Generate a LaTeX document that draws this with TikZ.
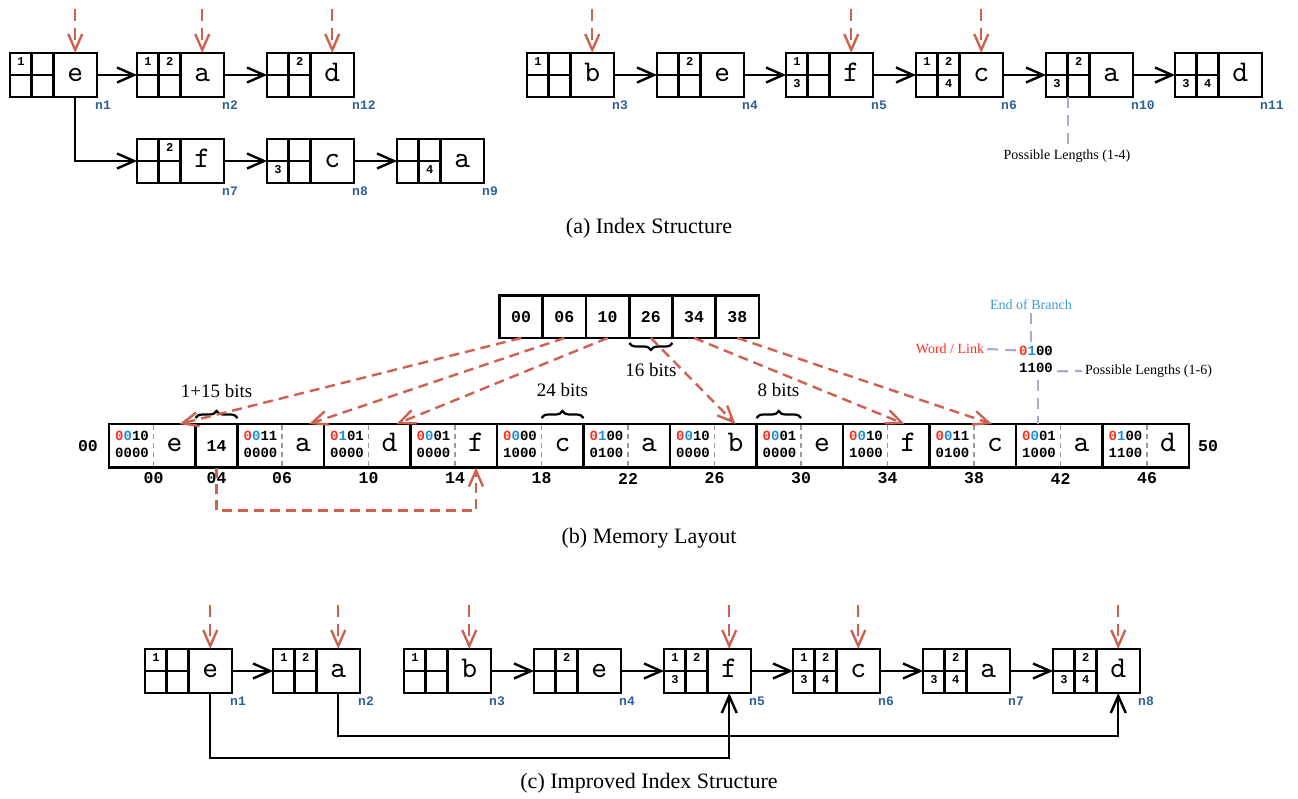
\documentclass[tikz,border=0pt]{standalone}
\usepackage{fontspec}
\setmainfont{Liberation Serif}
\setmonofont{Liberation Mono}
\newfontfamily\lmletter{lmmono10-regular}[Extension=.otf]
\usetikzlibrary{arrows.meta,decorations.pathreplacing,calc}
\definecolor{redar}{HTML}{CF6151}
\definecolor{wred}{HTML}{FF2D1E}
\definecolor{wblue}{HTML}{1C8FDA}
\definecolor{eobblue}{HTML}{3D9BD6}
\definecolor{labblue}{HTML}{2F5F99}
\definecolor{purp}{HTML}{B6A5D2}
\definecolor{gdiv}{HTML}{9A9A9A}
\newcommand\bitc[3]{\textcolor{wred}{#1}\textcolor{wblue}{#2}#3}
\tikzset{
  obox/.style={draw, line width=2.8pt, minimum width=87pt, minimum height=44pt, anchor=north west, inner sep=0pt, outer sep=0pt},
  lcell/.style={draw, line width=2.8pt, minimum width=43.5pt, minimum height=44pt, anchor=north east, inner sep=0pt, outer sep=0pt, text height=12pt, text depth=0pt, font=\lmletter\fontsize{30}{30}\selectfont},
  scell/.style={draw, line width=2.8pt, minimum width=21.75pt, minimum height=22pt, anchor=north west, inner sep=0pt, outer sep=0pt, text height=7pt, text depth=5pt, font=\ttfamily\bfseries\fontsize{12}{12}\selectfont},
  nlab/.style={anchor=base west, inner sep=0pt, text=labblue, font=\ttfamily\bfseries\fontsize{13}{13}\selectfont},
  arr/.style={line width=2.4pt, -{Straight Barb[length=17pt,width=15pt]}},
  redin/.style={draw=redar, line width=2.4pt, dash pattern=on 12pt off 7pt, -{Straight Barb[length=16pt,width=14pt]}},
  reddash/.style={draw=redar, line width=2.4pt, dash pattern=on 10pt off 6pt, -{Straight Barb[length=16pt,width=14pt]}},
  purpd/.style={draw=purp, line width=2.2pt, dash pattern=on 11pt off 7pt},
  gdash/.style={draw=gdiv, line width=1.8pt, dash pattern=on 5pt off 4pt},
  anno/.style={inner sep=3pt, font=\fontsize{14}{14}\selectfont},
  brt/.style={inner sep=0pt, font=\fontsize{19}{19}\selectfont},
  captxt/.style={inner sep=0pt, font=\fontsize{22}{22}\selectfont},
  acell/.style={draw, line width=2.8pt, minimum width=43.25pt, minimum height=42.5pt, anchor=north west, inner sep=0pt, outer sep=0pt, font=\ttfamily\bfseries\fontsize{16.5}{16.5}\selectfont},
  mbox/.style={draw, line width=2.8pt, minimum width=86.5pt, minimum height=43.5pt, anchor=north west, inner sep=0pt, outer sep=0pt},
  m14box/.style={draw, line width=2.8pt, minimum width=42pt, minimum height=43.5pt, anchor=north west, inner sep=0pt, outer sep=0pt, font=\ttfamily\bfseries\fontsize{16.5}{16.5}\selectfont},
  mlet/.style={minimum width=42pt, minimum height=43.5pt, inner sep=0pt, outer sep=0pt, text height=12pt, text depth=0pt, font=\lmletter\fontsize{30}{30}\selectfont},
  bitsf/.style={anchor=base west, inner sep=0pt, font=\ttfamily\bfseries\fontsize{14}{14}\selectfont},
  mlab/.style={inner sep=0pt, font=\ttfamily\bfseries\fontsize{16.5}{16.5}\selectfont},
  brc/.style={draw, line width=2.2pt, decorate, decoration={brace, amplitude=7pt}},
}
\newcommand\inode[9]{%
  \node[obox] (#1) at (#2,#3) {};
  \node[lcell] (#1L) at (#1.north east) {#4};
  \node[scell] (#1a) at (#1.north west) {#5};
  \node[scell] (#1b) at (#1a.north east) {#6};
  \node[scell] (#1c) at (#1a.south west) {#7};
  \node[scell] (#1d) at (#1c.north east) {#8};
  \node[nlab] (#1N) at ([shift={(-2pt,-12.5pt)}]#1.south east) {#9};
}
\newcommand\redinto[1]{%
  \coordinate (#1T) at ([yshift=44pt]#1L.north);
  \draw[redin] (#1T) -- (#1L.north);
}
\newcommand\mcell[5]{%
  \node[mbox] (#1) at (#2) {};
  \draw[gdash] ([shift={(44.5pt,-1.4pt)}]#1.north west) -- ([shift={(44.5pt,1.4pt)}]#1.south west);
  \node[bitsf] (#1t) at ([shift={(6pt,5.75pt)}]#1.west) {#3};
  \node[bitsf] (#1u) at ([shift={(6pt,-11.25pt)}]#1.west) {#4};
  \node[mlet] (#1l) at ([xshift=65.5pt]#1.west) {#5};
}
\begin{document}
\begin{tikzpicture}[x=1pt,y=-1pt]
\useasboundingbox[fill=white] (0,0) rectangle (1298,798);

% ---------------- (a) Index Structure ----------------
\inode{an1}{10}{53}{e}{1}{}{}{}{n1}
\inode{an2}{137}{53}{a}{1}{2}{}{}{n2}
\inode{an12}{267}{53}{d}{}{2}{}{}{n12}
\inode{an7}{137}{139}{f}{}{2}{}{}{n7}
\inode{an8}{267}{139}{c}{}{}{3}{}{n8}
\inode{an9}{397}{139}{a}{}{}{}{4}{n9}
\inode{an3}{527}{53}{b}{1}{}{}{}{n3}
\inode{an4}{657}{53}{e}{}{2}{}{}{n4}
\inode{an5}{786}{53}{f}{1}{}{3}{}{n5}
\inode{an6}{916}{53}{c}{1}{2}{}{4}{n6}
\inode{an10}{1046}{53}{a}{}{2}{3}{}{n10}
\inode{an11}{1175}{53}{d}{}{}{3}{4}{n11}

\draw[arr] (an1.east) -- (an2.west);
\draw[arr] (an2.east) -- (an12.west);
\draw[arr] (an1L.south) |- (an7.west);
\draw[arr] (an7.east) -- (an8.west);
\draw[arr] (an8.east) -- (an9.west);
\draw[arr] (an3.east) -- (an4.west);
\draw[arr] (an4.east) -- (an5.west);
\draw[arr] (an5.east) -- (an6.west);
\draw[arr] (an6.east) -- (an10.west);
\draw[arr] (an10.east) -- (an11.west);

\redinto{an1}
\redinto{an2}
\redinto{an12}
\redinto{an3}
\redinto{an5}
\redinto{an6}

\node[anno] (pl4) at (1067,156) {Possible Lengths (1-4)};
\draw[purpd] (an10c.south east) -- (an10c.south east |- pl4.north);

\node[captxt] (capa) at (649,228) {(a) Index Structure};

% ---------------- (b) Memory Layout ----------------
\node[acell] (ar0) at (499.5,295.5) {00};
\node[acell] (ar1) at (ar0.north east) {06};
\node[acell] (ar2) at (ar1.north east) {10};
\node[acell] (ar3) at (ar2.north east) {26};
\node[acell] (ar4) at (ar3.north east) {34};
\node[acell] (ar5) at (ar4.north east) {38};

\mcell{m1}{109,424}{\bitc{0}{0}{10}}{0000}{e}
\node[m14box] (m14) at (m1.north east) {14};
\mcell{m2}{m14.north east}{\bitc{0}{0}{11}}{0000}{a}
\mcell{m3}{m2.north east}{\bitc{0}{1}{01}}{0000}{d}
\mcell{m4}{m3.north east}{\bitc{0}{0}{01}}{0000}{f}
\mcell{m5}{m4.north east}{\bitc{0}{0}{00}}{1000}{c}
\mcell{m6}{m5.north east}{\bitc{0}{1}{00}}{0100}{a}
\mcell{m7}{m6.north east}{\bitc{0}{0}{10}}{0000}{b}
\mcell{m8}{m7.north east}{\bitc{0}{0}{01}}{0000}{e}
\mcell{m9}{m8.north east}{\bitc{0}{0}{10}}{1000}{f}
\mcell{m10}{m9.north east}{\bitc{0}{0}{11}}{0100}{c}
\mcell{m11}{m10.north east}{\bitc{0}{0}{01}}{1000}{a}
\mcell{m12}{m11.north east}{\bitc{0}{1}{00}}{1100}{d}

\node[mlab] (L00) at ([xshift=-21pt]m1.west) {00};
\node[mlab] (R50) at ([xshift=19pt]m12.east) {50};
\node[mlab] (o00) at ([shift={(44.5pt,-11pt)}]m1.south west) {00};
\node[mlab] (o04) at ([yshift=-11pt]m14.south) {04};
\node[mlab] (o06) at ([shift={(44.5pt,-11pt)}]m2.south west) {06};
\node[mlab] (o10) at ([shift={(44.5pt,-11pt)}]m3.south west) {10};
\node[mlab] (o14) at ([shift={(44.5pt,-11pt)}]m4.south west) {14};
\node[mlab] (o18) at ([shift={(44.5pt,-11pt)}]m5.south west) {18};
\node[mlab] (o22) at ([shift={(44.5pt,-11pt)}]m6.south west) {22};
\node[mlab] (o26) at ([shift={(44.5pt,-11pt)}]m7.south west) {26};
\node[mlab] (o30) at ([shift={(44.5pt,-11pt)}]m8.south west) {30};
\node[mlab] (o34) at ([shift={(44.5pt,-11pt)}]m9.south west) {34};
\node[mlab] (o38) at ([shift={(44.5pt,-11pt)}]m10.south west) {38};
\node[mlab] (o42) at ([shift={(44.5pt,-11pt)}]m11.south west) {42};
\node[mlab] (o46) at ([shift={(44.5pt,-11pt)}]m12.south west) {46};

% braces
\draw[brc] ([yshift=6pt]m14.north west) -- ([yshift=6pt]m14.north east);
\node[brt] (b1) at ([yshift=33pt]m14.north) {1+15 bits};
\draw[brc] ([shift={(44.5pt,6pt)}]m5.north west) -- ([yshift=6pt]m5.north east);
\node[brt] (b2) at ([shift={(-21pt,34pt)}]m5.north east) {24 bits};
\draw[brc] ([yshift=6pt]m8.north west) -- ([shift={(44.5pt,6pt)}]m8.north west);
\node[brt] (b3) at ([shift={(22pt,34pt)}]m8.north west) {8 bits};
\draw[brc] ([yshift=-5pt]ar3.south east) -- ([yshift=-5pt]ar3.south west);
\node[brt] (b4) at ([yshift=-32pt]ar3.south) {16 bits};

% red dashed pointers
\draw[reddash] (ar0.south) -- ([xshift=5pt]m1l.north);
\draw[reddash] (ar1.south) -- ([xshift=6pt]m2l.north);
\draw[reddash] (ar2.south) -- ([xshift=7pt]m3l.north);
\draw[reddash] (ar3.south) -- (m7l.north);
\draw[reddash] (ar4.south) -- ([xshift=-4pt]m9l.north);
\draw[reddash] (ar5.south) -- ([xshift=-3pt]m10l.north);
\draw[reddash] (m14.south) -- ([yshift=-43pt]m14.south) -| (m4l.south);

% annotations
\node[anno, text=eobblue] (eob) at (1031,305) {End of Branch};
\node[bitsf] (w0100) at (1019,355) {\bitc{0}{1}{00}};
\node[bitsf] (w1100) at (1019,372) {1100};
\node[anno, text=wred] (wl) at (950,349) {Word / Link};
\node[anno, anchor=west] (pl6) at (1082,371) {Possible Lengths (1-6)};
\draw[purpd] (eob.south) -- (eob.south |- w0100.north);
\draw[purpd] (wl.east) -- ([xshift=-2pt]w0100.west);
\draw[purpd] ([shift={(4pt,-4pt)}]w1100.east) -- (pl6.west);
\draw[purpd] ([shift={(2pt,-8pt)}]w1100.south) -- ([shift={(2pt,0pt)}]w1100.south |- m11.north);

\node[captxt] (capb) at (649,538) {(b) Memory Layout};

% ---------------- (c) Improved Index Structure ----------------
\inode{cn1}{145}{649}{e}{1}{}{}{}{n1}
\inode{cn2}{273}{649}{a}{1}{2}{}{}{n2}
\inode{cn3}{404}{649}{b}{1}{}{}{}{n3}
\inode{cn4}{534}{649}{e}{}{2}{}{}{n4}
\inode{cn5}{664}{649}{f}{1}{2}{3}{}{n5}
\inode{cn6}{793}{649}{c}{1}{2}{3}{4}{n6}
\inode{cn7}{923}{649}{a}{}{2}{3}{4}{n7}
\inode{cn8}{1053}{649}{d}{}{2}{3}{4}{n8}

\draw[arr] (cn1.east) -- (cn2.west);
\draw[arr] (cn3.east) -- (cn4.west);
\draw[arr] (cn4.east) -- (cn5.west);
\draw[arr] (cn5.east) -- (cn6.west);
\draw[arr] (cn6.east) -- (cn7.west);
\draw[arr] (cn7.east) -- (cn8.west);
\draw[arr] (cn1L.south) -- ([yshift=-65pt]cn1L.south) -| (cn5L.south);
\draw[arr] (cn2L.south) -- ([yshift=-43pt]cn2L.south) -| (cn8L.south);

\redinto{cn1}
\redinto{cn2}
\redinto{cn3}
\redinto{cn5}
\redinto{cn6}
\redinto{cn8}

\node[captxt] (capc) at (649,783) {(c) Improved Index Structure};
\end{tikzpicture}
\end{document}
